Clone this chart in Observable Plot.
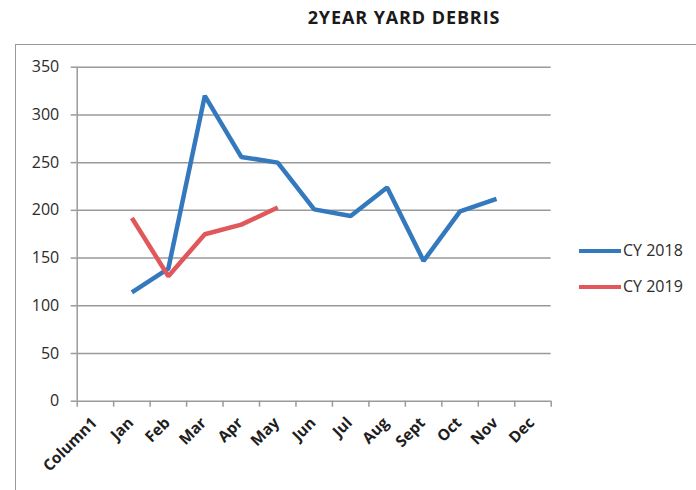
<!DOCTYPE html>
<html>
<head>
<meta charset="utf-8">
<script src="https://cdn.jsdelivr.net/npm/d3@7"></script>
<script src="https://cdn.jsdelivr.net/npm/@observablehq/plot@0.6"></script>
<style>
  body { margin: 0; background: #fff; }
  #wrap { position: relative; width: 696px; height: 490px; overflow: hidden; font-family: "Open Sans", sans-serif; }
  #border { position: absolute; left: 15px; top: 44px; width: 800px; height: 600px; border-left: 1.5px solid #9a9a9a; border-top: 1.5px solid #9a9a9a; }
  #title { position: absolute; left: 283px; width: 242px; top: 5px; text-align: center; font-weight: 700; font-size: 18px; color: #1a1a1a; white-space: nowrap; letter-spacing: 0.9px; }
  #chart { position: absolute; left: 0; top: 0; }
  .leg { position: absolute; left: 579px; font-size: 16px; color: #2b2b2b; white-space: nowrap; }
  .leg span.sw { display: inline-block; width: 42px; height: 4px; vertical-align: middle; margin-right: 2px; position: relative; top: -1px; }
</style>
</head>
<body>
<div id="wrap">
  <div id="border"></div>
  <div id="title">2YEAR YARD DEBRIS</div>
  <div id="chart"></div>
  <div class="leg" style="top:239px"><span class="sw" style="background:#3479bd"></span>CY 2018</div>
  <div class="leg" style="top:275px"><span class="sw" style="background:#e0585b"></span>CY 2019</div>
</div>
<script>
const categories = ["Column1", "Jan", "Feb", "Mar", "Apr", "May", "Jun", "Jul", "Aug", "Sept", "Oct", "Nov", "Dec"];
const months2018 = ["Jan", "Feb", "Mar", "Apr", "May", "Jun", "Jul", "Aug", "Sept", "Oct", "Nov"];
const values2018 = [114, 139, 320, 256, 250, 201, 194, 224, 147, 199, 212];
const months2019 = ["Jan", "Feb", "Mar", "Apr", "May"];
const values2019 = [192, 131, 175, 185, 203];
const yTicks = [0, 50, 100, 150, 200, 250, 300, 350];

const blue = "#3479bd";
const red = "#e0585b";
const gridColor = "#9a9a9a";

const data2018 = months2018.map((m, i) => ({month: m, value: values2018[i]}));
const data2019 = months2019.map((m, i) => ({month: m, value: values2019[i]}));

const W = 696, H = 490;
const plotLeft = 76.7, plotRight = 550.7, plotTop = 66.7, plotBottom = 400.7;
const step = (plotRight - plotLeft) / categories.length;

const chart = Plot.plot({
  width: W,
  height: H,
  marginLeft: plotLeft,
  marginRight: W - plotRight,
  marginTop: plotTop,
  marginBottom: H - plotBottom,
  style: {fontFamily: "Open Sans, sans-serif", background: "transparent", overflow: "visible"},
  x: {type: "point", domain: categories, padding: 0.5, align: 0.5, round: false, label: null},
  y: {domain: [0, 350], ticks: yTicks, label: null},
  marks: [
    Plot.gridY(yTicks, {stroke: gridColor, strokeOpacity: 1, strokeWidth: 1.5}),
    Plot.axisY(yTicks, {tickSize: 6, tickPadding: 12, stroke: gridColor, strokeWidth: 1.5, fontSize: 16, fill: "#2b2b2b", tickFormat: d => String(d), label: null}),
    Plot.ruleX([categories[0]], {dx: -step / 2, stroke: gridColor, strokeWidth: 1.5}),
    Plot.axisX(categories, {tickSize: 6, text: null, dx: -step / 2, stroke: gridColor, strokeWidth: 1.5, label: null}),
    Plot.axisX([categories[categories.length - 1]], {tickSize: 6, text: null, dx: step / 2, stroke: gridColor, strokeWidth: 1.5, label: null}),
    Plot.axisX(categories, {tickSize: 0, tickRotate: -45, tickPadding: 8, dx: -1, dy: 11, fontSize: 15.5, fontWeight: 700, fill: "#1e1e1e", textAnchor: "end", label: null}),
    Plot.lineY(data2018, {x: "month", y: "value", stroke: blue, strokeWidth: 4.5, strokeLinejoin: "miter", strokeLinecap: "butt"}),
    Plot.lineY(data2019, {x: "month", y: "value", stroke: red, strokeWidth: 4.5, strokeLinejoin: "miter", strokeLinecap: "butt"})
  ]
});
document.getElementById("chart").appendChild(chart);
</script>
</body>
</html>
